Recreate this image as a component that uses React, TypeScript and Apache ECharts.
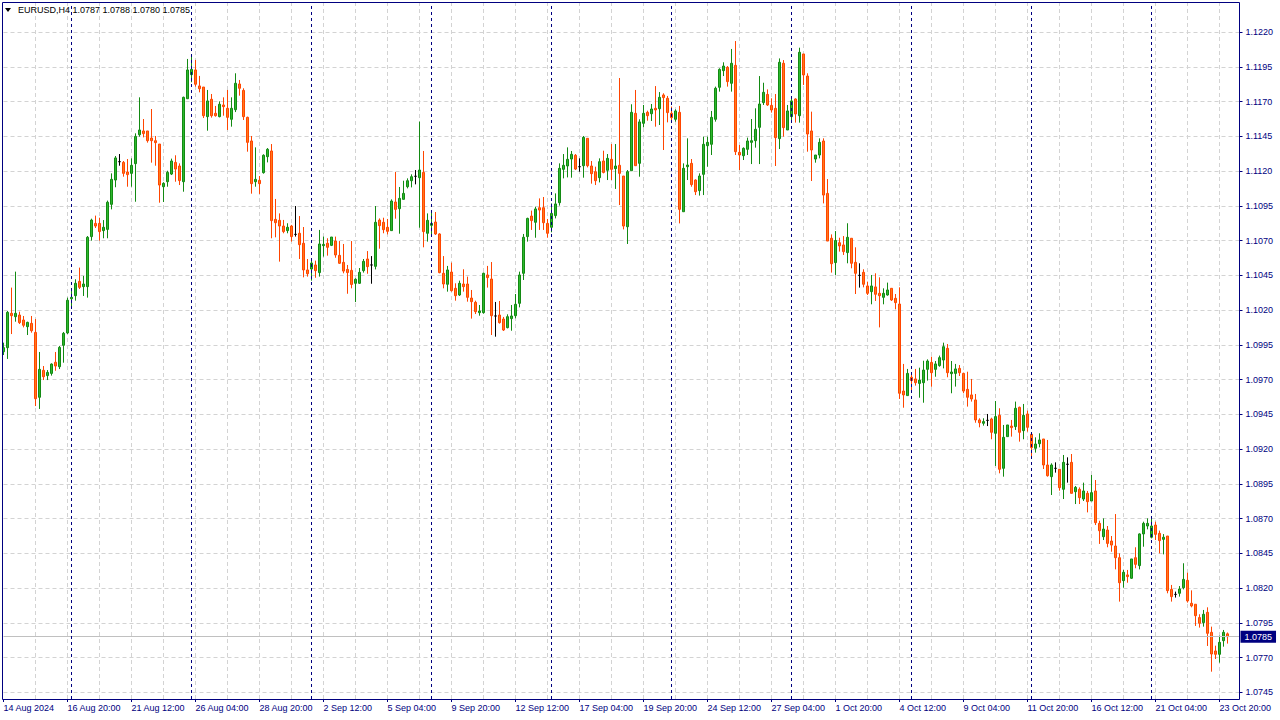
import React, { useEffect, useRef } from "react";
import * as echarts from "echarts";

const symbolTitle = "EURUSD,H4";
const priceTicks = [1.0745, 1.077, 1.0795, 1.082, 1.0845, 1.087, 1.0895, 1.092, 1.0945, 1.097, 1.0995, 1.102, 1.1045, 1.107, 1.1095, 1.112, 1.1145, 1.117, 1.1195, 1.122];
const firstBarUtc = Date.UTC(2024, 7, 14, 4, 0);
const firstLabel = "14 Aug 2024";
const totalSlots = 310;
const labelEvery = 16;
const gridEvery = 8;

const opens = [
1.09900,1.09929,1.10176,1.10152,1.10164,1.10128,1.10080,1.10104,1.10039,1.09572,
1.09766,1.09728,1.09744,1.09824,1.09792,1.09946,1.10035,1.10281,1.10303,1.10406,
1.10368,1.10368,1.10728,1.10823,1.10823,1.10771,1.10780,1.10960,1.11135,1.11267,
1.11262,1.11193,1.11183,1.11253,1.11461,1.11488,1.11488,1.11437,1.11418,1.11394,
1.11087,1.11123,1.11178,1.11262,1.11236,1.11123,1.11720,1.11893,1.11927,1.11812,
1.11804,1.11591,1.11716,1.11615,1.11591,1.11675,1.11651,1.11572,1.11641,1.11826,
1.11780,1.11586,1.11416,1.11123,1.11133,1.11188,1.11303,1.11344,1.10852,1.10845,
1.10804,1.10771,1.10804,1.10744,1.10752,1.10680,1.10488,1.10495,1.10524,1.10469,
1.10663,1.10680,1.10665,1.10696,1.10593,1.10543,1.10492,1.10485,1.10392,1.10392,
1.10483,1.10567,1.10524,1.10514,1.10847,1.10831,1.10795,1.10771,1.10977,1.10929,
1.10996,1.11087,1.11130,1.11162,1.11152,1.11190,1.10752,1.10809,1.10833,1.10747,
1.10464,1.10385,1.10473,1.10356,1.10308,1.10387,1.10387,1.10286,1.10255,1.10181,
1.10181,1.10452,1.10423,1.10157,1.10164,1.10135,1.10073,1.10138,1.10159,1.10248,
1.10464,1.10728,1.10876,1.10831,1.10936,1.10936,1.10823,1.10795,1.10879,1.10972,
1.11212,1.11236,1.11286,1.11313,1.11231,1.11238,1.11435,1.11236,1.11195,1.11152,
1.11272,1.11205,1.11284,1.11217,1.11241,1.11164,1.10799,1.11202,1.11615,1.11255,
1.11543,1.11622,1.11612,1.11651,1.11648,1.11747,1.11723,1.11615,1.11572,1.11622,
1.10907,1.11231,1.11255,1.11135,1.11059,1.11176,1.11382,1.11392,1.11572,1.11802,
1.11922,1.11946,1.11831,1.11960,1.11334,1.11310,1.11356,1.11406,1.11418,1.11514,
1.11692,1.11751,1.11672,1.11651,1.11433,1.11975,1.11495,1.11591,1.11718,1.11598,
1.12042,1.11883,1.11488,1.11286,1.11315,1.11416,1.11039,1.10716,1.10541,1.10684,
1.10668,1.10613,1.10716,1.10543,1.10449,1.10471,1.10373,1.10332,1.10366,1.10320,
1.10291,1.10308,1.10356,1.10284,1.10243,1.09617,1.09584,1.09716,1.09704,1.09672,
1.09677,1.09773,1.09823,1.09773,1.09800,1.09840,1.09924,1.09742,1.09744,1.09780,
1.09744,1.09629,1.09589,1.09553,1.09409,1.09385,1.09406,1.09416,1.09313,1.09442,
1.09061,1.09289,1.09365,1.09361,1.09500,1.09332,1.09452,1.09306,1.09205,1.09238,
1.09272,1.09085,1.09001,1.09061,1.09054,1.08910,1.09090,1.09104,1.08893,1.08910,
1.08840,1.08881,1.08826,1.08898,1.08665,1.08569,1.08617,1.08538,1.08502,1.08418,
1.08253,1.08294,1.08270,1.08418,1.08361,1.08589,1.08646,1.08565,1.08653,1.08593,
1.08550,1.08574,1.08190,1.08154,1.08162,1.08202,1.08255,1.08090,1.08083,1.07987,
1.07951,1.08025,1.07881,1.07747,1.07723,1.07821,1.07870
];

const highs = [
1.09965,1.10193,1.10361,1.10476,1.10188,1.10157,1.10116,1.10157,1.10135,1.09898,
1.09797,1.09768,1.09816,1.09898,1.09941,1.10042,1.10289,1.10356,1.10421,1.10505,
1.10445,1.10732,1.10857,1.10879,1.10864,1.10847,1.10987,1.11183,1.11308,1.11322,
1.11272,1.11286,1.11291,1.11471,1.11730,1.11574,1.11488,1.11646,1.11452,1.11394,
1.11119,1.11202,1.11289,1.11313,1.11255,1.11735,1.12006,1.12027,1.11999,1.11884,
1.11804,1.11783,1.11754,1.11668,1.11701,1.11730,1.11783,1.11730,1.11903,1.11855,
1.11795,1.11591,1.11452,1.11370,1.11164,1.11320,1.11365,1.11394,1.10999,1.10895,
1.10848,1.10824,1.10812,1.10948,1.10876,1.10797,1.10567,1.10555,1.10555,1.10776,
1.10728,1.10716,1.10725,1.10728,1.10696,1.10675,1.10524,1.10696,1.10428,1.10502,
1.10567,1.10624,1.10588,1.10948,1.10859,1.10864,1.10855,1.10996,1.11193,1.11085,
1.11130,1.11147,1.11176,1.11207,1.11555,1.11344,1.10895,1.10903,1.10905,1.10752,
1.10588,1.10517,1.10541,1.10392,1.10411,1.10493,1.10440,1.10344,1.10267,1.10236,
1.10469,1.10517,1.10545,1.10258,1.10265,1.10150,1.10169,1.10236,1.10315,1.10476,
1.10747,1.10864,1.10915,1.10943,1.11003,1.11013,1.10855,1.10967,1.11039,1.11255,
1.11322,1.11370,1.11344,1.11322,1.11291,1.11452,1.11435,1.11272,1.11231,1.11291,
1.11346,1.11322,1.11394,1.11394,1.11869,1.11164,1.11207,1.11680,1.11783,1.11572,
1.11675,1.11634,1.11682,1.11811,1.11768,1.11759,1.11740,1.11663,1.11644,1.11668,
1.11255,1.11435,1.11286,1.11140,1.11183,1.11447,1.11447,1.11632,1.11807,1.11939,
1.11982,1.11955,1.12078,1.12135,1.11387,1.11370,1.11440,1.11574,1.11651,1.11883,
1.11835,1.11787,1.11723,1.11754,1.12010,1.11998,1.11675,1.11730,1.11723,1.12087,
1.12042,1.11903,1.11627,1.11315,1.11435,1.11435,1.11142,1.10744,1.10768,1.10720,
1.10732,1.10824,1.10716,1.10651,1.10536,1.10493,1.10404,1.10452,1.10464,1.10435,
1.10356,1.10397,1.10356,1.10315,1.10363,1.09812,1.09776,1.09749,1.09776,1.09785,
1.09835,1.09845,1.09864,1.09833,1.09872,1.09965,1.09955,1.09833,1.09812,1.09804,
1.09749,1.09756,1.09704,1.09596,1.09421,1.09421,1.09452,1.09425,1.09545,1.09493,
1.09373,1.09373,1.09409,1.09541,1.09505,1.09524,1.09476,1.09306,1.09284,1.09313,
1.09272,1.09265,1.09097,1.09104,1.09056,1.09157,1.09140,1.09164,1.08934,1.08924,
1.08958,1.08898,1.09013,1.08977,1.08684,1.08701,1.08646,1.08574,1.08732,1.08449,
1.08330,1.08330,1.08409,1.08493,1.08593,1.08677,1.08701,1.08718,1.08677,1.08613,
1.08588,1.08574,1.08222,1.08174,1.08214,1.08378,1.08310,1.08183,1.08083,1.08011,
1.08042,1.08061,1.07922,1.07785,1.07857,1.07898,1.07880
];

const lows = [
1.09876,1.09848,1.10027,1.10116,1.10099,1.10075,1.10020,1.10037,1.09509,1.09488,
1.09696,1.09696,1.09728,1.09763,1.09775,1.09821,1.10027,1.10207,1.10267,1.10351,
1.10301,1.10289,1.10699,1.10790,1.10699,1.10716,1.10716,1.10924,1.11083,1.11238,
1.11159,1.11087,1.11087,1.10979,1.11447,1.11442,1.11404,1.11260,1.11238,1.10972,
1.10977,1.11087,1.11171,1.11123,1.11099,1.11051,1.11720,1.11838,1.11807,1.11766,
1.11581,1.11490,1.11584,1.11591,1.11586,1.11598,1.11495,1.11519,1.11624,1.11742,
1.11567,1.11339,1.11037,1.11087,1.11035,1.11181,1.11262,1.10716,1.10723,1.10548,
1.10752,1.10752,1.10692,1.10728,1.10567,1.10435,1.10440,1.10411,1.10432,1.10440,
1.10584,1.10591,1.10660,1.10576,1.10531,1.10464,1.10317,1.10356,1.10257,1.10387,
1.10469,1.10461,1.10389,1.10492,1.10641,1.10752,1.10744,1.10771,1.10857,1.10749,
1.10996,1.11075,1.11082,1.11104,1.10792,1.10651,1.10692,1.10744,1.10740,1.10464,
1.10356,1.10332,1.10332,1.10267,1.10301,1.10332,1.10260,1.10138,1.10171,1.10159,
1.10174,1.10361,1.10020,1.10008,1.10102,1.10049,1.10068,1.10051,1.10140,1.10219,
1.10416,1.10692,1.10776,1.10720,1.10776,1.10776,1.10720,1.10759,1.10859,1.10951,
1.11147,1.11154,1.11152,1.11207,1.11195,1.11152,1.11226,1.11109,1.11099,1.11118,
1.11183,1.11135,1.11135,1.11071,1.10955,1.10780,1.10675,1.11202,1.11238,1.11159,
1.11514,1.11562,1.11560,1.11519,1.11531,1.11351,1.11550,1.11550,1.11555,1.10823,
1.10907,1.11135,1.11087,1.11027,1.11023,1.11027,1.11231,1.11315,1.11555,1.11771,
1.11883,1.11807,1.11771,1.11315,1.11207,1.11279,1.11315,1.11250,1.11368,1.11250,
1.11675,1.11668,1.11620,1.11236,1.11358,1.11447,1.11495,1.11560,1.11548,1.11548,
1.11819,1.11339,1.11128,1.11260,1.11291,1.10967,1.10696,1.10469,1.10452,1.10620,
1.10596,1.10536,1.10500,1.10315,1.10361,1.10363,1.10308,1.10241,1.10265,1.10075,
1.10241,1.10303,1.10265,1.10205,1.09560,1.09497,1.09584,1.09617,1.09656,1.09569,
1.09533,1.09692,1.09648,1.09720,1.09792,1.09780,1.09716,1.09601,1.09649,1.09725,
1.09601,1.09505,1.09541,1.09389,1.09356,1.09368,1.09365,1.09270,1.09078,1.09025,
1.09001,1.09289,1.09289,1.09337,1.09253,1.09270,1.09325,1.09133,1.09174,1.09212,
1.09056,1.09001,1.08869,1.09030,1.08900,1.08840,1.08958,1.08881,1.08804,1.08804,
1.08826,1.08744,1.08826,1.08653,1.08517,1.08545,1.08493,1.08461,1.08334,1.08102,
1.08202,1.08238,1.08265,1.08342,1.08334,1.08497,1.08622,1.08557,1.08545,1.08449,
1.08442,1.08162,1.08102,1.08131,1.08138,1.08190,1.08095,1.08061,1.07927,1.07915,
1.07922,1.07783,1.07598,1.07689,1.07663,1.07778,1.07800
];

const closes = [
1.09929,1.10183,1.10159,1.10176,1.10109,1.10090,1.10111,1.10051,1.09562,1.09773,
1.09720,1.09751,1.09811,1.09797,1.09931,1.10032,1.10270,1.10291,1.10392,1.10363,
1.10387,1.10723,1.10847,1.10804,1.10764,1.10795,1.10975,1.11140,1.11294,1.11267,
1.11183,1.11174,1.11241,1.11449,1.11495,1.11469,1.11418,1.11418,1.11404,1.11099,
1.11111,1.11190,1.11272,1.11214,1.11131,1.11730,1.11927,1.11931,1.11824,1.11792,
1.11598,1.11704,1.11598,1.11598,1.11680,1.11663,1.11586,1.11651,1.11831,1.11795,
1.11591,1.11406,1.11109,1.11140,1.11109,1.11313,1.11356,1.10843,1.10828,1.10804,
1.10764,1.10795,1.10728,1.10744,1.10670,1.10488,1.10461,1.10538,1.10483,1.10675,
1.10672,1.10651,1.10725,1.10596,1.10536,1.10480,1.10469,1.10384,1.10421,1.10471,
1.10550,1.10512,1.10524,1.10831,1.10807,1.10778,1.10766,1.10984,1.10924,1.11003,
1.11039,1.11130,1.11159,1.11162,1.11207,1.10764,1.10845,1.10823,1.10747,1.10469,
1.10387,1.10488,1.10339,1.10303,1.10392,1.10368,1.10291,1.10260,1.10188,1.10193,
1.10464,1.10433,1.10159,1.10157,1.10109,1.10056,1.10152,1.10157,1.10241,1.10452,
1.10723,1.10859,1.10843,1.10927,1.10919,1.10828,1.10752,1.10895,1.10963,1.11219,
1.11241,1.11284,1.11320,1.11214,1.11231,1.11442,1.11238,1.11181,1.11130,1.11267,
1.11190,1.11291,1.11212,1.11236,1.11183,1.10804,1.11195,1.11622,1.11238,1.11553,
1.11615,1.11598,1.11646,1.11639,1.11730,1.11728,1.11620,1.11584,1.11632,1.10924,
1.11219,1.11243,1.11102,1.11051,1.11164,1.11392,1.11406,1.11586,1.11795,1.11931,
1.11955,1.11843,1.11975,1.11339,1.11315,1.11363,1.11416,1.11418,1.11500,1.11682,
1.11766,1.11675,1.11639,1.11440,1.11982,1.11512,1.11632,1.11704,1.11610,1.12054,
1.11891,1.11466,1.11351,1.11315,1.11406,1.11027,1.10696,1.10533,1.10700,1.10661,
1.10620,1.10723,1.10536,1.10464,1.10449,1.10385,1.10320,1.10373,1.10313,1.10303,
1.10320,1.10344,1.10272,1.10253,1.09601,1.09589,1.09744,1.09692,1.09677,1.09696,
1.09768,1.09833,1.09749,1.09812,1.09857,1.09936,1.09749,1.09754,1.09776,1.09749,
1.09617,1.09572,1.09560,1.09409,1.09389,1.09397,1.09406,1.09320,1.09433,1.09054,
1.09284,1.09373,1.09354,1.09493,1.09320,1.09442,1.09356,1.09210,1.09236,1.09265,
1.09085,1.09008,1.09085,1.09061,1.08922,1.09104,1.09090,1.08881,1.08924,1.08850,
1.08898,1.08821,1.08886,1.08670,1.08612,1.08624,1.08521,1.08509,1.08418,1.08238,
1.08313,1.08282,1.08409,1.08370,1.08589,1.08665,1.08665,1.08646,1.08586,1.08541,
1.08565,1.08181,1.08138,1.08154,1.08193,1.08262,1.08107,1.08071,1.08001,1.07946,
1.08011,1.07874,1.07725,1.07723,1.07809,1.07881,1.07850
];

const NAVY = "#000080";
const FONT = "'Liberation Sans', Arial, sans-serif";
const Y_MIN = 1.0740144;
const Y_MAX = 1.1241583;
const MONTHS = ["Jan", "Feb", "Mar", "Apr", "May", "Jun", "Jul", "Aug", "Sep", "Oct", "Nov", "Dec"];

function buildBarTimes(): Date[] {
  const out: Date[] = [];
  let t = firstBarUtc;
  while (out.length < totalSlots) {
    const d = new Date(t);
    const wd = d.getUTCDay();
    if (wd !== 0 && wd !== 6) out.push(d);
    t += 4 * 3600 * 1000;
  }
  return out;
}

const pad = (n: number) => (n < 10 ? "0" + n : "" + n);

export default function App() {
  const ref = useRef<HTMLDivElement>(null);
  useEffect(() => {
    if (!ref.current) return;
    const chart = echarts.init(ref.current, undefined, { renderer: "svg" });
    const times = buildBarTimes();
    const cats = times.map((d) => d.toISOString());
    const labelOf = (idx: number) => {
      if (idx === 0) return firstLabel;
      const d = times[idx];
      return `${d.getUTCDate()} ${MONTHS[d.getUTCMonth()]} ${pad(d.getUTCHours())}:${pad(d.getUTCMinutes())}`;
    };
    const data = opens.map((o, i) => {
      const c = closes[i];
      return [o, c, Math.min(lows[i], o, c), Math.max(highs[i], o, c)];
    });
    const separators: number[] = [];
    times.forEach((d, i) => {
      if (i < opens.length && d.getUTCDay() === 1 && d.getUTCHours() === 0) separators.push(i);
    });
    const last = opens.length - 1;
    const lastPrice = closes[last];
    const headerText = `${symbolTitle} ${opens[last].toFixed(4)} ${highs[last].toFixed(4)} ${lows[last].toFixed(4)} ${lastPrice.toFixed(4)}`;

    const option: any = {
      animation: false,
      backgroundColor: "#ffffff",
      grid: { left: 3.5, top: 2, width: 1236, height: 697, containLabel: false },
      xAxis: {
        type: "category",
        data: cats,
        boundaryGap: false,
        axisLine: { show: false },
        axisTick: {
          show: true,
          interval: (i: number) => i % labelEvery === 0,
          length: 3,
          lineStyle: { color: NAVY },
        },
        axisLabel: {
          interval: (i: number) => i % labelEvery === 0,
          formatter: (_v: string, idx: number) => labelOf(idx),
          align: "left",
          color: NAVY,
          fontSize: 9,
          fontFamily: FONT,
          margin: 4,
        },
        splitLine: {
          show: true,
          interval: (i: number) => i % gridEvery === 0 && i > 0,
          lineStyle: { color: "#d3d3d3", type: [4, 3], width: 1 },
        },
      },
      yAxis: {
        type: "value",
        position: "right",
        min: Y_MIN,
        max: Y_MAX,
        scale: true,
        axisLine: { show: false },
        axisTick: { show: true, customValues: priceTicks, length: 3, lineStyle: { color: NAVY } },
        axisLabel: {
          customValues: priceTicks,
          formatter: (v: number) => v.toFixed(4),
          color: NAVY,
          fontSize: 9,
          fontFamily: FONT,
          margin: 6,
        },
        splitLine: { show: true, lineStyle: { color: "#d3d3d3", type: [4, 3], width: 1 } },
      },
      series: [
        {
          type: "line",
          data: closes,
          symbol: "none",
          silent: true,
          z: 1,
          lineStyle: { opacity: 0 },
          markLine: {
            silent: true,
            precision: 6,
            symbol: ["none", "none"],
            animation: false,
            data: [
              {
                yAxis: lastPrice,
                lineStyle: { color: "#c0c0c0", type: "solid", width: 1 },
                label: {
                  show: true,
                  position: "end",
                  formatter: lastPrice.toFixed(4),
                  backgroundColor: NAVY,
                  color: "#ffffff",
                  fontSize: 9,
                  fontFamily: FONT,
                  padding: [2, 4, 1, 4],
                  distance: 1,
                },
              },
            ],
          },
        },
        {
          type: "candlestick",
          data,
          barWidth: 2,
          clip: false,
          z: 3,
          itemStyle: {
            color: "#2db82d",
            color0: "#ff7a1a",
            borderColor: "#138a13",
            borderColor0: "#ff4500",
            borderColorDoji: "#000000",
            borderWidth: 1,
          },
          markLine: {
            silent: true,
            symbol: ["none", "none"],
            animation: false,
            label: { show: false },
            lineStyle: { color: NAVY, type: [3, 3], width: 1 },
            data: separators.map((i) => ({ xAxis: cats[i] })),
          },
        },
      ],
      graphic: [
        {
          type: "rect",
          z: 100,
          silent: true,
          shape: { x: 2.5, y: 2.5, width: 1237, height: 697 },
          style: { fill: "none", stroke: NAVY, lineWidth: 1 },
        },
        {
          type: "polygon",
          z: 100,
          shape: { points: [[5, 8], [11, 8], [8, 12]] },
          style: { fill: "#000000" },
        },
        {
          type: "text",
          z: 100,
          left: 18,
          top: 5,
          style: { text: headerText, fill: "#000000", font: `9px ${FONT}` },
        },
      ],
    };
    chart.setOption(option);
    return () => chart.dispose();
  }, []);
  return (
    <div
      ref={ref}
      style={{ position: "fixed", left: 0, top: 0, width: 1280, height: 720, background: "#fff" }}
    />
  );
}
